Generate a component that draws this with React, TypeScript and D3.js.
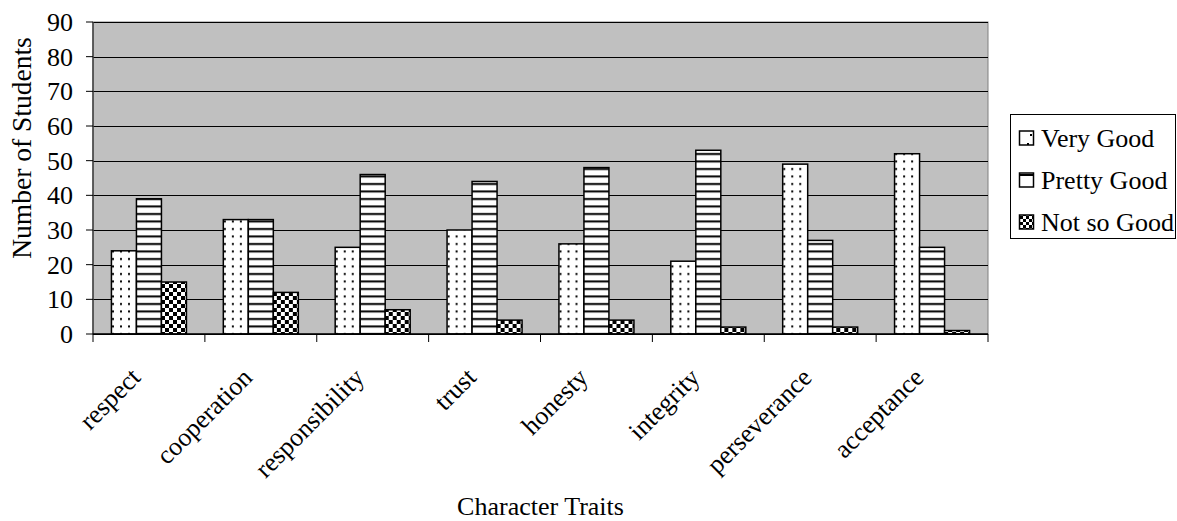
import React from "react";
import * as d3 from "d3";

const categories = ["respect", "cooperation", "responsibility", "trust", "honesty", "integrity", "perseverance", "acceptance"];
const seriesNames = ["Very Good", "Pretty Good", "Not so Good"];
const veryGood = [24, 33, 25, 30, 26, 21, 49, 52];
const prettyGood = [39, 33, 46, 44, 48, 53, 27, 25];
const notSoGood = [15, 12, 7, 4, 4, 2, 2, 1];
const yTicks = [0, 10, 20, 30, 40, 50, 60, 70, 80, 90];
const yTitle = "Number of Students";
const xTitle = "Character Traits";

const W = 1177;
const H = 521;
const FONT = '"Liberation Serif", "Times New Roman", serif';
const FS = 26;
const plot = { left: 93, right: 988, top: 22, bottom: 334 };
const patternIds = ["pat-dots", "pat-hlines", "pat-check"];

export default function App() {
  const seriesValues = [veryGood, prettyGood, notSoGood];
  const x0 = d3.scaleBand<string>().domain(categories).range([plot.left, plot.right]).padding(0);
  const x1 = d3
    .scaleBand<string>()
    .domain(seriesNames)
    .range([0, x0.bandwidth()])
    .paddingInner(0)
    .paddingOuter(0.7375);
  const y = d3.scaleLinear().domain([0, 90]).range([plot.bottom, plot.top]);

  const legendItems = seriesNames.map((name, i) => ({ name, i }));
  const legendY = [138, 180, 222];

  return (
    <svg width={W} height={H} style={{ position: "absolute", left: 0, top: 0 }} fontFamily={FONT}>
      <defs>
        <pattern id="pat-dots" patternUnits="userSpaceOnUse" width={8} height={7.5}>
          <rect width={8} height={7.5} fill="#fff" />
          <rect x={3} y={3} width={2} height={2} fill="#000" />
        </pattern>
        <pattern id="pat-hlines" patternUnits="userSpaceOnUse" width={8} height={7.5}>
          <rect width={8} height={7.5} fill="#fff" />
          <rect x={0} y={3} width={8} height={2} fill="#000" />
        </pattern>
        <pattern id="pat-check" patternUnits="userSpaceOnUse" width={8} height={8}>
          <rect width={8} height={8} fill="#fff" />
          <rect x={0} y={0} width={4} height={4} fill="#000" />
          <rect x={4} y={4} width={4} height={4} fill="#000" />
        </pattern>
        <pattern id="leg-dots" patternUnits="userSpaceOnUse" width={14} height={14}>
          <rect width={14} height={14} fill="#fff" />
          <rect x={5} y={3} width={2} height={2} fill="#000" />
          <rect x={8} y={8} width={2} height={2} fill="#000" />
        </pattern>
        <pattern id="leg-hlines" patternUnits="userSpaceOnUse" width={14} height={14}>
          <rect width={14} height={14} fill="#fff" />
          <rect x={0} y={6} width={14} height={2} fill="#000" />
        </pattern>
        <pattern id="leg-check" patternUnits="userSpaceOnUse" width={6} height={6}>
          <rect width={6} height={6} fill="#fff" />
          <rect x={0} y={0} width={3} height={3} fill="#000" />
          <rect x={3} y={3} width={3} height={3} fill="#000" />
        </pattern>
      </defs>
      <rect width={W} height={H} fill="#fff" />

      {/* plot area */}
      <rect
        x={plot.left}
        y={plot.top}
        width={plot.right - plot.left}
        height={plot.bottom - plot.top}
        fill="#C0C0C0"
        stroke="#808080"
        strokeWidth={1}
      />
      {yTicks.map((t) => (
        <line
          key={"g" + t}
          x1={plot.left}
          x2={plot.right}
          y1={Math.round(y(t)) + 0.5}
          y2={Math.round(y(t)) + 0.5}
          stroke="#000"
          strokeWidth={1}
        />
      ))}

      {/* bars */}
      {categories.map((c, ci) => (
        <g key={c} transform={`translate(${x0(c)},0)`}>
          {seriesNames.map((s, si) => {
            const v = seriesValues[si][ci];
            return (
              <rect
                key={s}
                x={x1(s)}
                y={y(v)}
                width={x1.bandwidth()}
                height={plot.bottom - y(v)}
                fill={`url(#${patternIds[si]})`}
                stroke="#000"
                strokeWidth={1.5}
              />
            );
          })}
        </g>
      ))}

      {/* y axis */}
      <line x1={plot.left} x2={plot.left} y1={plot.top} y2={plot.bottom} stroke="#404040" strokeWidth={1.5} />
      {yTicks.map((t) => (
        <g key={"yt" + t}>
          <line x1={plot.left - 7} x2={plot.left} y1={y(t)} y2={y(t)} stroke="#000" strokeWidth={1} />
          <text x={73} y={y(t)} dy="0.35em" textAnchor="end" fontSize={FS} fill="#000">
            {t}
          </text>
        </g>
      ))}

      {/* x axis */}
      <line x1={plot.left} x2={plot.right} y1={plot.bottom} y2={plot.bottom} stroke="#000" strokeWidth={1.5} />
      {categories.map((c) => (
        <line
          key={"xt" + c}
          x1={x0(c)}
          x2={x0(c)}
          y1={plot.bottom}
          y2={plot.bottom + 8}
          stroke="#000"
          strokeWidth={1}
        />
      ))}
      <line x1={plot.right} x2={plot.right} y1={plot.bottom} y2={plot.bottom + 8} stroke="#000" strokeWidth={1} />
      {categories.map((c) => {
        const cx = (x0(c) as number) + x0.bandwidth() / 2;
        return (
          <text
            key={"xl" + c}
            transform={`translate(${cx - 7},${379}) rotate(-45)`}
            textAnchor="end"
            fontSize={FS}
            fill="#000"
          >
            {c}
          </text>
        );
      })}

      {/* titles */}
      <text x={(plot.left + plot.right) / 2} y={515} textAnchor="middle" fontSize={FS} fill="#000">
        {xTitle}
      </text>
      <text
        transform={`translate(31,148) rotate(-90)`}
        textAnchor="middle"
        fontSize={27.5}
        fill="#000"
      >
        {yTitle}
      </text>

      {/* legend */}
      <rect x={1010.5} y={114.5} width={165} height={124} fill="#fff" stroke="#000" strokeWidth={1} />
      {legendItems.map(({ name, i }) => (
        <g key={"lg" + name}>
          <rect
            x={1019.5}
            y={legendY[i] - 7}
            width={14}
            height={14}
            fill={`url(#${["leg-dots", "leg-hlines", "leg-check"][i]})`}
            stroke="#000"
            strokeWidth={1.5}
          />
          <text x={1041} y={legendY[i]} dy="0.35em" fontSize={FS} fill="#000">
            {name}
          </text>
        </g>
      ))}
    </svg>
  );
}
